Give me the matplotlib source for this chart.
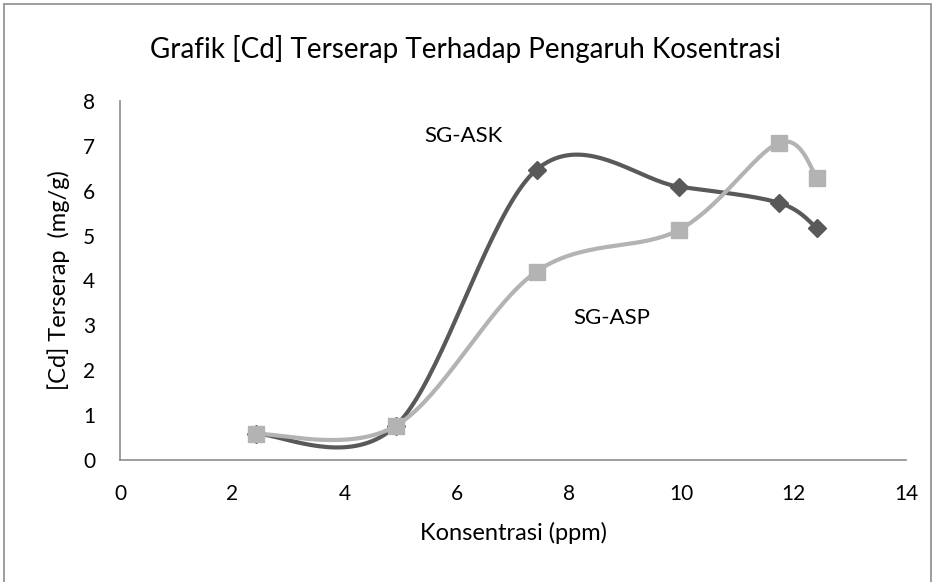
import numpy as np
import matplotlib.pyplot as plt
from matplotlib.patches import Rectangle

plt.rcParams['font.family'] = ['Lato', 'DejaVu Sans']

# data
konsentrasi = [2.42, 4.91, 7.42, 9.96, 11.74, 12.42]
sg_ask = [0.58, 0.76, 6.47, 6.09, 5.73, 5.16]
sg_asp = [0.58, 0.76, 4.20, 5.13, 7.07, 6.29]
x_ticks = [0, 2, 4, 6, 8, 10, 12, 14]
y_ticks = [0, 1, 2, 3, 4, 5, 6, 7, 8]


def excel_smooth(x, y, n=40):
    # bezier smoothing like excel's "smoothed line"
    p = np.column_stack([x, y]).astype(float)
    p = np.vstack([p[0], p, p[-1]])
    out = []
    for i in range(1, len(p) - 2):
        p0, p1 = p[i], p[i + 1]
        c1 = p0 + (p[i + 1] - p[i - 1]) / 6
        c2 = p1 - (p[i + 2] - p[i]) / 6
        t = np.linspace(0, 1, n)[:, None]
        seg = ((1 - t) ** 3) * p0 + 3 * ((1 - t) ** 2) * t * c1 + 3 * (1 - t) * t ** 2 * c2 + t ** 3 * p1
        out.append(seg)
    s = np.vstack(out)
    return s[:, 0], s[:, 1]


fig = plt.figure(figsize=(9.35, 5.82), dpi=100)
fig.patches.append(Rectangle((4 / 935, -0.1), 927 / 935, 1.1 - 4 / 582, transform=fig.transFigure,
                             fill=False, edgecolor='#8c8c8c', linewidth=1.2))
ax = fig.add_axes([120 / 935, (582 - 460) / 582, (906 - 120) / 935, (460 - 101) / 582])

dark = '#595959'
light = '#b3b3b3'

sx, sy = excel_smooth(konsentrasi, sg_ask)
ax.plot(sx, sy, color=dark, linewidth=3, solid_capstyle='round', zorder=2)
ax.plot(konsentrasi, sg_ask, linestyle='none', marker='D', markersize=9, color=dark, zorder=3)

sx, sy = excel_smooth(konsentrasi, sg_asp)
ax.plot(sx, sy, color=light, linewidth=3, solid_capstyle='round', zorder=4)
ax.plot(konsentrasi, sg_asp, linestyle='none', marker='s', markersize=12, color=light, zorder=5)

ax.set_xlim(0, 14)
ax.set_ylim(0, 8)
ax.set_xticks(x_ticks)
ax.set_yticks(y_ticks)
ax.tick_params(length=0, labelsize=15)
ax.tick_params(axis='x', pad=17)
ax.tick_params(axis='y', pad=18)
for s in ['top', 'right']:
    ax.spines[s].set_visible(False)
for s in ['left', 'bottom']:
    ax.spines[s].set_color('#8c8c8c')
    ax.spines[s].set_linewidth(1.2)

ax.set_xlabel('Konsentrasi (ppm)', fontsize=17, va='center')
ax.xaxis.set_label_coords(0.5, (460 - 533) / 359)
ax.set_ylabel('[Cd] Terserap  (mg/g)', fontsize=17, va='center')
ax.yaxis.set_label_coords((59 - 120) / 786, 0.5)
fig.text(466 / 935, 1 - 58 / 582, 'Grafik [Cd] Terserap Terhadap Pengaruh Kosentrasi',
         ha='center', va='baseline', fontsize=20)

ax.text(6.11, 7.22, 'SG-ASK', ha='center', va='center', fontsize=16)
ax.text(8.76, 3.17, 'SG-ASP', ha='center', va='center', fontsize=16)

fig.savefig('out.png', dpi=100)
